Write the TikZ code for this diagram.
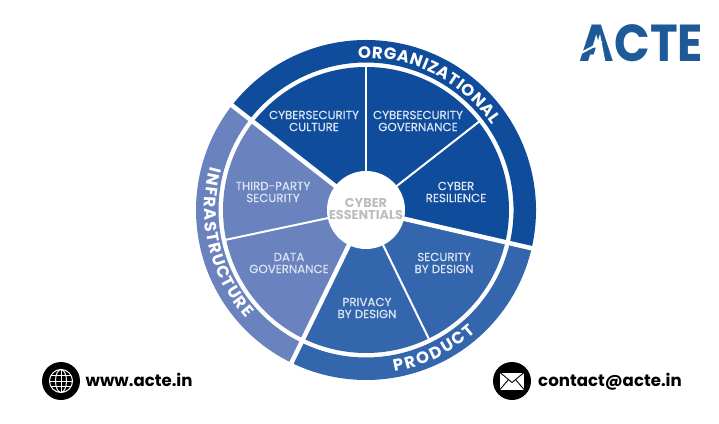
\documentclass[tikz,border=0pt]{standalone}
\usepackage{fontspec}
\setmainfont{Poppins}
\usetikzlibrary{decorations.text}
\definecolor{orgc}{HTML}{0F4D9C}
\definecolor{prodc}{HTML}{3366AC}
\definecolor{infc}{HTML}{6A83BF}
\definecolor{lbl}{HTML}{DCE5F2}
\definecolor{logoc}{HTML}{1F5A98}
\definecolor{midc}{HTML}{BDBDBD}
\newcommand{\annsec}[5]{\fill[#1] (#2:#4) arc[start angle=#2,end angle=#3,radius=#4pt] -- (#3:#5) arc[start angle=#3,end angle=#2,radius=#5pt] -- cycle;}
\newcommand{\ringtext}[4]{\path[decorate,decoration={text along path,text align=fit to path,text={|\fontsize{16.5}{16.5}\selectfont\bfseries\color{white}|#1}}] (#2:#4) arc[start angle=#2,end angle=#3,radius=#4pt];}
\tikzset{
  seglabel/.style={text=lbl,align=center,font=\fontsize{11.8}{12}\selectfont\addfontfeature{FakeBold=0.4}},
  thinspoke/.style={draw=white,line width=2pt},
  thickspoke/.style={draw=white,line width=4.5pt},
  weblabel/.style={text=black,anchor=base west,font=\fontsize{16.6}{18}\selectfont\bfseries},
  iconline/.style={draw=white,line width=1pt}
}
\begin{document}
\begin{tikzpicture}[x=1pt,y=1pt]
\useasboundingbox (0,0) rectangle (719,423);
\fill[white] (0,0) rectangle (719,423);
\begin{scope}[shift={(366,213)}]
  % outer ring
  \annsec{orgc}{142}{-13}{170}{147.5}
  \annsec{prodc}{-13}{-116}{170}{147.5}
  \annsec{infc}{244}{142}{170}{147.5}
  % inner wedges
  \annsec{orgc}{142}{-13}{143}{38}
  \annsec{prodc}{-13}{-116}{143}{38}
  \annsec{infc}{244}{142}{143}{38}
  % spokes
  \draw[thinspoke] (90:38) -- (90:144);
  \draw[thinspoke] (38:38) -- (38:144);
  \draw[thinspoke] (-64:38) -- (-64:144);
  \draw[thinspoke] (192:38) -- (192:144);
  \draw[thickspoke] (142:36) -- (142:173);
  \draw[thickspoke] (-13:36) -- (-13:173);
  \draw[thickspoke] (244:36) -- (244:173);
  \fill[white] (0,0) circle (39);
  \ringtext{ORGANIZATIONAL}{93}{34}{152}
  \ringtext{PRODUCT}{-80}{-48}{164}
  \ringtext{INFRASTRUCTURE}{164.5}{222}{161.5}
\end{scope}
\node[seglabel] (culture) at (314,302) {CYBERSECURITY\\CULTURE};
\node[seglabel] (gov) at (418,302) {CYBERSECURITY\\GOVERNANCE};
\node[seglabel] (res) at (456,231) {CYBER\\RESILIENCE};
\node[seglabel] (sec) at (444,160) {SECURITY\\BY DESIGN};
\node[seglabel] (priv) at (367,115) {PRIVACY\\BY DESIGN};
\node[seglabel] (data) at (289,160) {DATA\\GOVERNANCE};
\node[seglabel] (third) at (273,231) {THIRD-PARTY\\SECURITY};
\node[align=center,text=midc,font=\fontsize{12.8}{12.5}\selectfont\bfseries] (core) at (366,214) {CYBER\\ESSENTIALS};
% logo
\node[text=logoc,font=\fontsize{52}{52}\selectfont\bfseries,anchor=center,inner sep=0pt,xscale=0.9] (logo) at (641.5,380) {ACTE};
\fill[white] (591.5,361) -- (605.5,361) -- (600,389) -- cycle;
\draw[white,line width=2pt] (581,370) -- (602,381);
% web contact
\fill[black] (61,42) circle (19);
\begin{scope}[shift={(61,42)}]
  \draw[iconline] (0,0) circle (11.5);
  \draw[iconline] (0,0) ellipse (5.5 and 11.5);
  \draw[iconline] (0,-11.5) -- (0,11.5);
  \draw[iconline] (-11.5,0) -- (11.5,0);
  \draw[iconline] (-10.2,5.5) -- (10.2,5.5);
  \draw[iconline] (-10.2,-5.5) -- (10.2,-5.5);
\end{scope}
\node[weblabel,inner sep=0pt] (web) at (85.5,36.5) {www.acte.in};
\fill[black] (512,42) circle (19);
\begin{scope}[shift={(512,42)}]
  \fill[white] (-12,-8.5) rectangle (12,8.5);
  \draw[black,line width=0.9pt] (-12,8.5) -- (0,-1.5) -- (12,8.5);
  \draw[black,line width=0.9pt] (-12,-8.5) -- (-3.5,1.5);
  \draw[black,line width=0.9pt] (12,-8.5) -- (3.5,1.5);
\end{scope}
\node[weblabel,inner sep=0pt] (mail) at (538,36.5) {contact@acte.in};
\end{tikzpicture}
\end{document}
